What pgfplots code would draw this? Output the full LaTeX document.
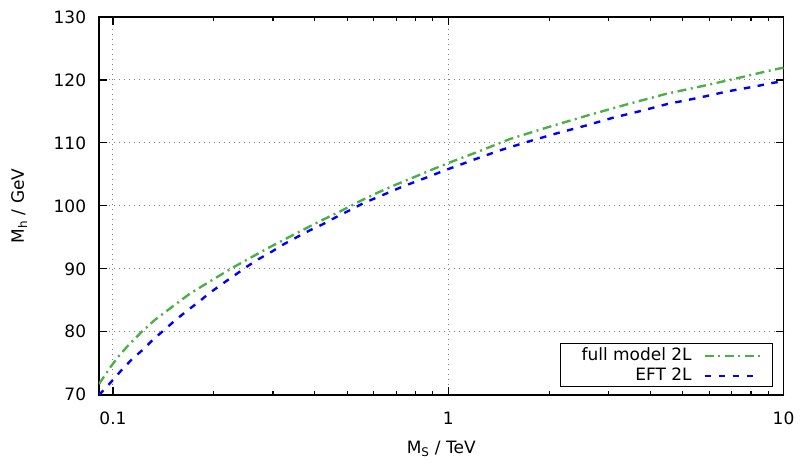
\documentclass[border=0pt]{standalone}
\usepackage{fontspec}
\setmainfont{DejaVu Sans}
\usepackage{pgfplots}
\pgfplotsset{compat=1.18}
\definecolor{fullgreen}{RGB}{77,175,74}
\definecolor{eftblue}{RGB}{0,0,255}

\begin{document}
\fontsize{17bp}{20bp}\selectfont
\begin{tikzpicture}
\path (0,0) rectangle (800bp,458bp);
\begin{axis}[
  at={(99bp,63bp)}, anchor=south west,
  scale only axis, width=685bp, height=378bp,
  xmode=log, xmin=0.0908, xmax=10, ymin=70, ymax=130,
  xtick={0.1,1,10}, xticklabels={0.1,1,10},
  ytick={70,80,...,130},
  /pgf/number format/assume math mode=true,
  tick pos=both, tick align=inside,
  major tick length=8bp, minor tick length=4bp,
  every tick/.style={black, line width=1.1bp},
  axis line style={line width=1.6bp},
  grid=major,
  major grid style={black!50, line width=1bp, dash pattern=on 1bp off 4bp},
  xticklabel style={yshift=-11bp},
  yticklabel style={xshift=-7bp},
  xlabel={M\textsubscript{S} / TeV},
  ylabel={M\textsubscript{h} / GeV},
  every axis x label/.style={at={(axis description cs:0.5,-0.156)}, anchor=base},
  every axis y label/.style={at={(axis description cs:-0.1095,0.5)}, anchor=base, rotate=90},
  legend style={at={(axis description cs:0.9844,0.0204)}, anchor=south east,
    draw=black, line width=1bp, inner xsep=11.6bp, inner ysep=4bp,
    row sep=4.4bp, column sep=11.7bp, nodes={inner sep=0bp}},
  legend cell align=right, legend plot pos=right,
  legend image code/.code={\draw[#1] (0bp,-1bp) -- (55bp,-1bp);},
]
% full model at two-loop order
\addplot[fullgreen, line width=2.4bp, dash pattern=on 9bp off 4.5bp on 2bp off 4.5bp] coordinates {
  (0.0908,71.7) (0.098,74.3) (0.1037,76.05) (0.110,77.6) (0.1218,80.0)
  (0.1334,81.9) (0.1496,83.9) (0.170,86.1) (0.1946,88.0) (0.226,90.1)
  (0.259,91.85) (0.290,93.3) (0.3257,94.7) (0.369,96.2) (0.419,97.7)
  (0.475,99.1) (0.538,100.6) (0.61,102.0) (0.693,103.3) (0.786,104.5)
  (0.898,105.8) (1.022,107.0) (1.2,108.4) (1.524,110.6) (1.984,112.5)
  (2.58,114.3) (3.40,116.1) (4.47,117.8) (5.81,119.1) (7.31,120.3)
  (9.29,121.6) (10,121.95)
};
\addlegendentry{\hspace*{9.4bp}full model 2L}
% effective field theory at two-loop order
\addplot[eftblue, line width=2.4bp, dash pattern=on 6.5bp off 7.5bp] coordinates {
  (0.0908,69.95) (0.0925,70.4) (0.099,72.1) (0.106,73.9) (0.1137,75.6)
  (0.123,77.2) (0.1318,78.8) (0.143,80.4) (0.153,81.8) (0.166,83.3)
  (0.1797,84.7) (0.1946,86.2) (0.213,87.7) (0.231,89.0) (0.250,90.3)
  (0.271,91.5) (0.297,92.7) (0.322,93.86) (0.3527,95.0) (0.386,96.1)
  (0.423,97.1) (0.464,98.25) (0.508,99.3) (0.557,100.4) (0.61,101.3)
  (0.67,102.2) (0.733,103.1) (0.804,103.9) (0.891,104.8) (0.976,105.65)
  (1.069,106.4) (1.172,107.2) (1.423,108.8) (1.729,110.2) (2.10,111.5)
  (2.55,112.7) (3.10,114.0) (3.77,115.1) (4.52,116.2) (5.62,117.2)
  (6.83,118.2) (8.29,119.0) (9.19,119.5) (10,119.8)
};
\addlegendentry{EFT 2L}
\end{axis}
\end{tikzpicture}
\end{document}
